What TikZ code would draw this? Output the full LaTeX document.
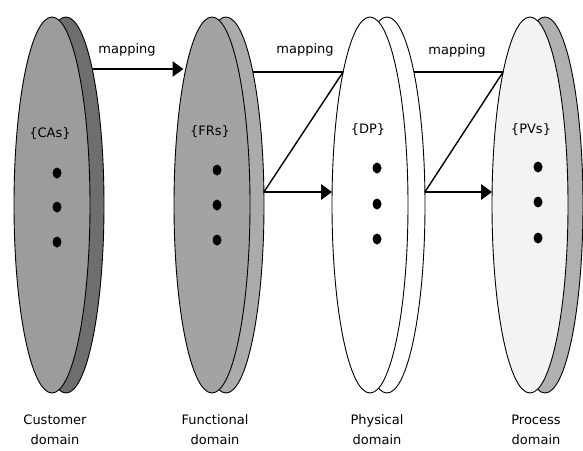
\documentclass[tikz,border=0pt]{standalone}
\usepackage{fontspec}
\setmainfont{DejaVu Sans}
\usetikzlibrary{arrows.meta,shapes.geometric,calc}
\definecolor{caback}{HTML}{6E6E6E}
\definecolor{cafront}{HTML}{9C9C9C}
\definecolor{frback}{HTML}{ABABAB}
\definecolor{frfront}{HTML}{A3A3A3}
\definecolor{pvback}{HTML}{B0B0B0}
\definecolor{pvfront}{HTML}{F3F3F3}
\begin{document}
\begin{tikzpicture}[x=1pt,y=-1pt,
  dom/.style={ellipse, draw=black, line width=0.9pt, minimum width=76pt, minimum height=376pt, inner sep=0pt},
  lbl/.style={font=\fontsize{13}{20}\selectfont, align=center, inner sep=0pt},
  mapline/.style={line width=2.6pt},
  maparrow/.style={line width=2.6pt, -{Triangle[length=11pt,width=15pt]}},
  diag/.style={line width=1.4pt},
  dot/.style={fill=black}]
\useasboundingbox (0,0) rectangle (583,450);
% domains (back, then front)
\node[dom, fill=caback]  (ca2) at (66,205) {};
\node[dom, fill=cafront] (ca1) at (52,205) {};
\node[dom, fill=frback]  (fr2) at (226,205) {};
\node[dom, fill=frfront] (fr1) at (212,205) {};
\node[dom, fill=white]   (dp2) at (387,205) {};
\node[dom, fill=white]   (dp1) at (370,205) {};
\node[dom, fill=pvback]  (pv2) at (545,205) {};
\node[dom, fill=pvfront] (pv1) at (530,205) {};
% connector end points on the domain outlines
\coordinate (a1s) at ($(ca2.center)+(26.2,-136)$);
\coordinate (a1e) at ($(fr1.center)+(-28.5,-136)$);
\coordinate (t2s) at ($(fr2.center)+(26.9,-133)$);
\coordinate (t2e) at ($(dp1.center)+(-26.9,-133)$);
\coordinate (b2s) at ($(fr2.center)+(37.9,-13)$);
\coordinate (b2e) at ($(dp1.center)+(-37.9,-13)$);
\coordinate (t3s) at ($(dp2.center)+(26.9,-133)$);
\coordinate (t3e) at ($(pv1.center)+(-26.9,-133)$);
\coordinate (b3s) at ($(dp2.center)+(37.9,-13)$);
\coordinate (b3e) at ($(pv1.center)+(-37.9,-13)$);
% set labels
\node[lbl] (catxt) at (50,134) {\{CAs\}};
\node[lbl] (frtxt) at (210,132) {\{FRs\}};
\node[lbl] (dptxt) at (368,130) {\{DP\}};
\node[lbl] (pvtxt) at (531,130) {\{PVs\}};
% dots
\foreach \y in {173,207,242} \fill[dot] (57,\y) ellipse [x radius=4.5, y radius=5.5];
\foreach \y in {170,205,240} \fill[dot] (217,\y) ellipse [x radius=4.5, y radius=5.5];
\foreach \y in {168,204,239} \fill[dot] (377,\y) ellipse [x radius=4.5, y radius=5.5];
\foreach \y in {167,202,238} \fill[dot] (538,\y) ellipse [x radius=4.5, y radius=5.5];
% mappings
\draw[maparrow] (a1s) -- (a1e);
\node[lbl] (m1) at (127,50) {mapping};
\draw[mapline] (t2s) -- (t2e);
\draw[diag] (t2e) -- (b2s);
\draw[maparrow] (b2s) -- (b2e);
\node[lbl] (m2) at (305,50) {mapping};
\draw[mapline] (t3s) -- (t3e);
\draw[diag] (t3e) -- (b3s);
\draw[maparrow] (b3s) -- (b3e);
\node[lbl] (m3) at (457,51) {mapping};
% domain names
\node[lbl] (cadom) at (55,430) {Customer\\domain};
\node[lbl] (frdom) at (215,430) {Functional\\domain};
\node[lbl] (dpdom) at (377,430) {Physical\\domain};
\node[lbl] (pvdom) at (536,430) {Process\\domain};
\end{tikzpicture}
\end{document}
